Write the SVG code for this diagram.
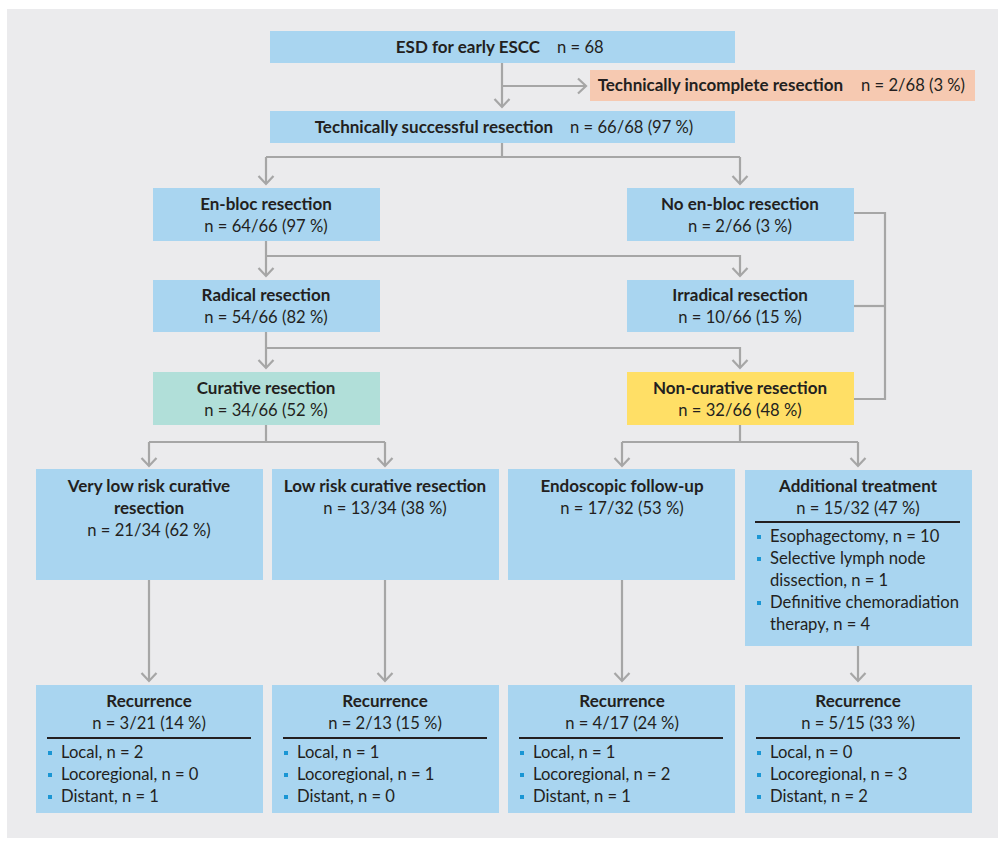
<svg xmlns="http://www.w3.org/2000/svg" width="1005" height="845" viewBox="0 0 1005 845">
<style>
.bg{fill:#ebebed}
.b{fill:#a9d5f0}
.s{fill:#f6c9b1}
.t{fill:#b1dfd9}
.y{fill:#ffdf66}
text{font-family:Lato,"Liberation Sans",sans-serif;font-size:16.6px;fill:#231f20}
.h{font-weight:700;font-size:17px}
.c{text-anchor:middle}
.e{text-anchor:end}
.dv{stroke:#231f20;stroke-width:2}
.bu{fill:#1a96d4}
.cn path{fill:none;stroke:#a6a6a6;stroke-width:2.2}
</style>
<defs>
<marker id="ar" markerUnits="userSpaceOnUse" markerWidth="18" markerHeight="18" refX="9" refY="9" orient="auto" viewBox="0 0 18 18">
<path d="M1,1.5 L9,9 L1,16.5" fill="none" stroke="#a6a6a6" stroke-width="2.2"/>
</marker>
</defs>
<rect width="1005" height="845" fill="#ffffff"/>
<rect class="bg" x="7" y="9" width="991" height="829"/>
<g class="cn" id="connectors">
<path d="M502,63 V107" marker-end="url(#ar)"/>
<path d="M502,86 H586" marker-end="url(#ar)"/>
<path d="M502,143 V157"/>
<path d="M266,157 H740"/>
<path d="M266,157 V184" marker-end="url(#ar)"/>
<path d="M740,157 V184" marker-end="url(#ar)"/>
<path d="M266,241 V276" marker-end="url(#ar)"/>
<path d="M266,256 H740 V276" marker-end="url(#ar)"/>
<path d="M266,332 V368" marker-end="url(#ar)"/>
<path d="M266,348 H740 V368" marker-end="url(#ar)"/>
<path d="M854,213 H885 V399 H854"/>
<path d="M854,306 H885"/>
<path d="M266,425 V442"/>
<path d="M149,442 H385"/>
<path d="M149,442 V466" marker-end="url(#ar)"/>
<path d="M385,442 V466" marker-end="url(#ar)"/>
<path d="M740,425 V442"/>
<path d="M622,442 H858"/>
<path d="M622,442 V466" marker-end="url(#ar)"/>
<path d="M858,442 V466" marker-end="url(#ar)"/>
<path d="M149,580 V681" marker-end="url(#ar)"/>
<path d="M385,580 V681" marker-end="url(#ar)"/>
<path d="M622,580 V681" marker-end="url(#ar)"/>
<path d="M858,646 V681" marker-end="url(#ar)"/>
</g>
<g id="n-esd">
<rect class="b" x="270" y="31" width="465" height="32"/>
<text x="540" y="53" class="h e">ESD for early ESCC</text>
<text x="557" y="53">n = 68</text>
</g>
<g id="n-incomplete">
<rect class="s" x="590" y="70" width="385" height="31"/>
<text x="843" y="91" class="h e">Technically incomplete resection</text>
<text x="861" y="91">n = 2/68 (3 %)</text>
</g>
<g id="n-successful">
<rect class="b" x="270" y="111" width="465" height="32"/>
<text x="553" y="133" class="h e">Technically successful resection</text>
<text x="570" y="133">n = 66/68 (97 %)</text>
</g>
<g id="n-enbloc">
<rect class="b" x="153" y="188" width="227" height="53"/>
<text x="266" y="210" class="h c">En-bloc resection</text>
<text x="266" y="232" class="c">n = 64/66 (97 %)</text>
</g>
<g id="n-noenbloc">
<rect class="b" x="627" y="188" width="227" height="53"/>
<text x="740" y="210" class="h c">No en-bloc resection</text>
<text x="740" y="232" class="c">n = 2/66 (3 %)</text>
</g>
<g id="n-radical">
<rect class="b" x="153" y="280" width="227" height="52"/>
<text x="266" y="301" class="h c">Radical resection</text>
<text x="266" y="323" class="c">n = 54/66 (82 %)</text>
</g>
<g id="n-irradical">
<rect class="b" x="627" y="280" width="227" height="52"/>
<text x="740" y="301" class="h c">Irradical resection</text>
<text x="740" y="323" class="c">n = 10/66 (15 %)</text>
</g>
<g id="n-curative">
<rect class="t" x="153" y="372" width="227" height="53"/>
<text x="266" y="394" class="h c">Curative resection</text>
<text x="266" y="416" class="c">n = 34/66 (52 %)</text>
</g>
<g id="n-noncurative">
<rect class="y" x="627" y="372" width="227" height="53"/>
<text x="740" y="394" class="h c">Non-curative resection</text>
<text x="740" y="416" class="c">n = 32/66 (48 %)</text>
</g>
<g id="n-verylow">
<rect class="b" x="36" y="469" width="227" height="111"/>
<text x="149" y="492" class="h c">Very low risk curative</text>
<text x="149" y="514" class="h c">resection</text>
<text x="149" y="536" class="c">n = 21/34 (62 %)</text>
</g>
<g id="n-low">
<rect class="b" x="272" y="469" width="227" height="111"/>
<text x="385" y="492" class="h c">Low risk curative resection</text>
<text x="385" y="514" class="c">n = 13/34 (38 %)</text>
</g>
<g id="n-endo">
<rect class="b" x="508" y="469" width="227" height="111"/>
<text x="622" y="492" class="h c">Endoscopic follow-up</text>
<text x="622" y="514" class="c">n = 17/32 (53 %)</text>
</g>
<g id="n-additional">
<rect class="b" x="745" y="470" width="227" height="176"/>
<text x="858" y="492" class="h c">Additional treatment</text>
<text x="858" y="514" class="c">n = 15/32 (47 %)</text>
<line class="dv" x1="755" y1="522" x2="960" y2="522"/>
<rect class="bu" x="757" y="535" width="4" height="4"/>
<text x="770" y="542">Esophagectomy, n = 10</text>
<rect class="bu" x="757" y="557" width="4" height="4"/>
<text x="770" y="564">Selective lymph node</text>
<text x="770" y="586">dissection, n = 1</text>
<rect class="bu" x="757" y="601" width="4" height="4"/>
<text x="770" y="608">Definitive chemoradiation</text>
<text x="770" y="630">therapy, n = 4</text>
</g>
<g id="n-rec1">
<rect class="b" x="36" y="685" width="227" height="128"/>
<text x="149" y="707" class="h c">Recurrence</text>
<text x="149" y="729" class="c">n = 3/21 (14 %)</text>
<line class="dv" x1="47" y1="738" x2="251" y2="738"/>
<rect class="bu" x="48" y="751" width="4" height="4"/>
<text x="61" y="758">Local, n = 2</text>
<rect class="bu" x="48" y="773" width="4" height="4"/>
<text x="61" y="780">Locoregional, n = 0</text>
<rect class="bu" x="48" y="795" width="4" height="4"/>
<text x="61" y="802">Distant, n = 1</text>
</g>
<g id="n-rec2">
<rect class="b" x="272" y="685" width="227" height="128"/>
<text x="385" y="707" class="h c">Recurrence</text>
<text x="385" y="729" class="c">n = 2/13 (15 %)</text>
<line class="dv" x1="283" y1="738" x2="487" y2="738"/>
<rect class="bu" x="284" y="751" width="4" height="4"/>
<text x="297" y="758">Local, n = 1</text>
<rect class="bu" x="284" y="773" width="4" height="4"/>
<text x="297" y="780">Locoregional, n = 1</text>
<rect class="bu" x="284" y="795" width="4" height="4"/>
<text x="297" y="802">Distant, n = 0</text>
</g>
<g id="n-rec3">
<rect class="b" x="508" y="685" width="227" height="128"/>
<text x="622" y="707" class="h c">Recurrence</text>
<text x="622" y="729" class="c">n = 4/17 (24 %)</text>
<line class="dv" x1="519" y1="738" x2="723" y2="738"/>
<rect class="bu" x="520" y="751" width="4" height="4"/>
<text x="533" y="758">Local, n = 1</text>
<rect class="bu" x="520" y="773" width="4" height="4"/>
<text x="533" y="780">Locoregional, n = 2</text>
<rect class="bu" x="520" y="795" width="4" height="4"/>
<text x="533" y="802">Distant, n = 1</text>
</g>
<g id="n-rec4">
<rect class="b" x="745" y="685" width="227" height="128"/>
<text x="858" y="707" class="h c">Recurrence</text>
<text x="858" y="729" class="c">n = 5/15 (33 %)</text>
<line class="dv" x1="756" y1="738" x2="960" y2="738"/>
<rect class="bu" x="757" y="751" width="4" height="4"/>
<text x="770" y="758">Local, n = 0</text>
<rect class="bu" x="757" y="773" width="4" height="4"/>
<text x="770" y="780">Locoregional, n = 3</text>
<rect class="bu" x="757" y="795" width="4" height="4"/>
<text x="770" y="802">Distant, n = 2</text>
</g>
</svg>
